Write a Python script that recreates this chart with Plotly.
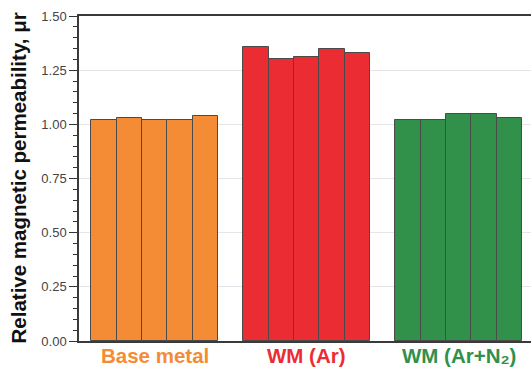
import plotly.graph_objects as go

groups = ["Base metal", "WM (Ar)", "WM (Ar+N₂)"]
base_metal = [1.02, 1.03, 1.02, 1.02, 1.04]
wm_ar = [1.355, 1.30, 1.31, 1.35, 1.33]
wm_ar_n2 = [1.02, 1.02, 1.05, 1.05, 1.03]
series = [base_metal, wm_ar, wm_ar_n2]
colors = ["#F48C35", "#EC2C33", "#31904A"]
y_ticks = [0.00, 0.25, 0.50, 0.75, 1.00, 1.25, 1.50]

fig = go.Figure()
centers = []
for gi, (vals, col) in enumerate(zip(series, colors)):
    start = gi * (len(vals) + 1)
    xs = [start + i for i in range(len(vals))]
    centers.append(start + (len(vals) - 1) / 2)
    fig.add_trace(go.Bar(
        x=xs, y=vals, width=1.0,
        marker=dict(color=col, line=dict(color="#4a4a4a", width=1)),
        showlegend=False,
    ))

for name, cx, col in zip(groups, centers, colors):
    fig.add_annotation(
        x=cx, y=0, xref="x", yref="paper", yanchor="top", yshift=-1,
        text="<b>%s</b>" % name, showarrow=False,
        font=dict(family="Liberation Sans, Arial, sans-serif", size=20.5, color=col),
    )

fig.add_annotation(
    x=0, y=0.5, xref="paper", yref="paper", xanchor="center", yanchor="middle",
    xshift=-61, textangle=-90, showarrow=False,
    text="<b>Relative magnetic permeability, μr</b>",
    font=dict(family="Liberation Sans, Arial, sans-serif", size=20.5, color="#111111"),
)

fig.update_layout(
    width=531, height=367,
    margin=dict(l=79, r=0, t=16, b=26),
    paper_bgcolor="white", plot_bgcolor="white",
    bargap=0,
    xaxis=dict(
        range=[-0.985, 16.855], showticklabels=False, ticks="",
        showgrid=False, zeroline=False,
        showline=True, mirror=True, linecolor="#3a3a3a", linewidth=1.5,
    ),
    yaxis=dict(
        range=[0, 1.5], tickvals=y_ticks,
        ticktext=["%.2f" % v for v in y_ticks],
        ticks="outside", ticklen=8, tickwidth=1.2, tickcolor="#333333",
        minor=dict(ticks="outside", ticklen=4, dtick=0.05, tickcolor="#333333", tickwidth=1, showgrid=False),
        showgrid=True, gridcolor="#e4e4ea", gridwidth=1,
        zeroline=False, showline=True, linecolor="#3a3a3a", linewidth=1.5,
        tickfont=dict(family="Liberation Sans, Arial, sans-serif", size=13, color="#444444"),
    ),
)

fig.write_html(
    "out.html",
    config={"displayModeBar": False},
    post_script="document.body.style.margin='0';document.body.style.overflow='hidden';",
)
